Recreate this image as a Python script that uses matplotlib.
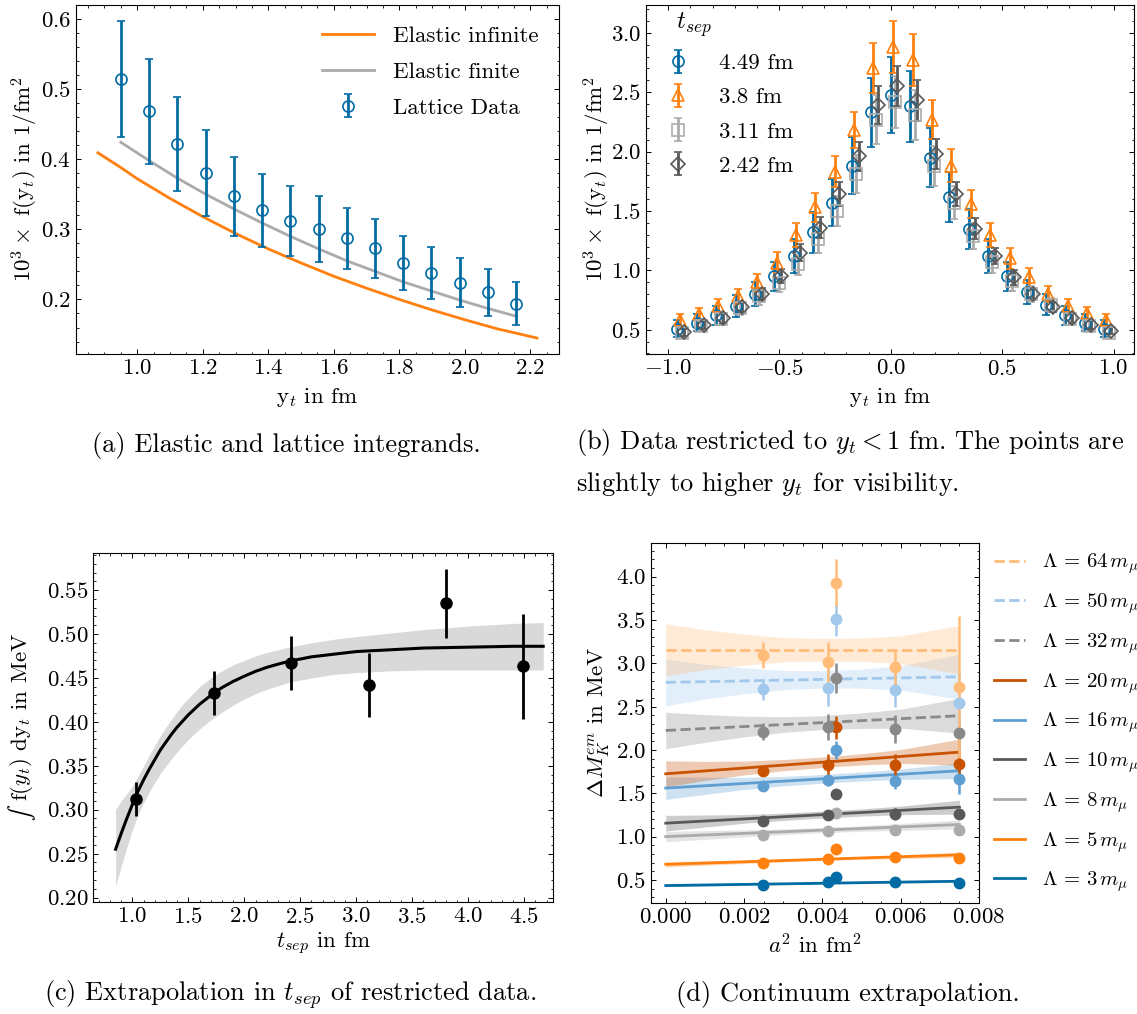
import numpy as np
import matplotlib.pyplot as plt
from matplotlib.lines import Line2D
from matplotlib.ticker import MultipleLocator

plt.rcParams.update({
    'font.family': 'serif',
    'font.serif': ['cmr10'],
    'mathtext.fontset': 'cm',
    'axes.formatter.use_mathtext': True,
    'font.size': 16.5,
    'xtick.direction': 'in', 'ytick.direction': 'in',
    'xtick.top': True, 'ytick.right': True,
    'xtick.minor.visible': True, 'ytick.minor.visible': True,
    'xtick.major.size': 3.5, 'ytick.major.size': 3.5,
    'xtick.minor.size': 1.8, 'ytick.minor.size': 1.8,
    'xtick.major.width': 0.7, 'ytick.major.width': 0.7,
    'xtick.minor.width': 0.6, 'ytick.minor.width': 0.6,
    'axes.linewidth': 0.8,
    'legend.frameon': False,
})

# tableau-colorblind10 colours
BLUE, ORANGE, LGRAY, DGRAY = '#006BA4', '#FF800E', '#ABABAB', '#595959'
MBLUE, DORANGE, GRAY, LBLUE, LORANGE = '#5F9ED1', '#C85200', '#898989', '#A2C8EC', '#FFBC79'

# ---------------- (a) elastic vs lattice integrand ----------------
yt_a = [0.950, 1.036, 1.122, 1.209, 1.295, 1.381, 1.467, 1.554,
        1.640, 1.726, 1.812, 1.898, 1.985, 2.071, 2.157]
lat_val = [0.514, 0.468, 0.421, 0.380, 0.347, 0.327, 0.312, 0.301,
           0.287, 0.273, 0.252, 0.238, 0.224, 0.210, 0.194]
lat_err = [0.083, 0.075, 0.067, 0.061, 0.056, 0.052, 0.050, 0.047,
           0.044, 0.042, 0.039, 0.037, 0.035, 0.033, 0.031]
fin_val = [0.424, 0.398, 0.373, 0.350, 0.329, 0.309, 0.290, 0.272,
           0.255, 0.240, 0.225, 0.212, 0.199, 0.187, 0.176]
yt_inf = [0.88, 0.95, 1.0, 1.1, 1.2, 1.3, 1.4, 1.5, 1.6, 1.7, 1.8, 1.9, 2.0, 2.1, 2.22]
inf_val = [0.409, 0.388, 0.372, 0.344, 0.318, 0.294, 0.272, 0.252,
           0.233, 0.216, 0.200, 0.185, 0.171, 0.158, 0.145]

# ---------------- (b) restricted data per t_sep ----------------
yt_b = [-0.958, -0.871, -0.784, -0.697, -0.610, -0.523, -0.436, -0.349,
        -0.262, -0.175, -0.088, 0.0, 0.088, 0.175, 0.262, 0.349,
        0.436, 0.523, 0.610, 0.697, 0.784, 0.871, 0.958]
tsep_labels = ['4.49 fm', '3.8 fm', '3.11 fm', '2.42 fm']
shift_b = [0.0, 0.01, 0.02, 0.03]
f449 = [0.51, 0.56, 0.62, 0.70, 0.80, 0.95, 1.12, 1.32, 1.57, 1.88, 2.33, 2.48,
        2.38, 1.95, 1.62, 1.35, 1.12, 0.95, 0.82, 0.71, 0.62, 0.56, 0.51]
e449 = [0.07, 0.07, 0.08, 0.09, 0.10, 0.12, 0.14, 0.17, 0.20, 0.24, 0.29, 0.32,
        0.30, 0.25, 0.21, 0.17, 0.14, 0.12, 0.10, 0.09, 0.08, 0.07, 0.07]
f380 = [0.58, 0.63, 0.70, 0.78, 0.90, 1.065, 1.30, 1.53, 1.83, 2.18, 2.70, 2.88,
        2.77, 2.27, 1.88, 1.56, 1.30, 1.10, 0.94, 0.80, 0.70, 0.64, 0.58]
e380 = [0.05, 0.05, 0.06, 0.06, 0.07, 0.09, 0.10, 0.12, 0.13, 0.15, 0.21, 0.22,
        0.22, 0.16, 0.14, 0.12, 0.10, 0.09, 0.08, 0.07, 0.06, 0.05, 0.05]
f311 = [0.47, 0.53, 0.59, 0.68, 0.78, 0.895, 1.05, 1.26, 1.50, 1.81, 2.27, 2.42,
        2.31, 1.88, 1.57, 1.29, 1.07, 0.91, 0.80, 0.71, 0.59, 0.53, 0.47]
e311 = [0.04, 0.04, 0.05, 0.06, 0.07, 0.08, 0.09, 0.11, 0.13, 0.16, 0.21, 0.22,
        0.21, 0.17, 0.14, 0.11, 0.09, 0.08, 0.07, 0.06, 0.05, 0.04, 0.04]
f242 = [0.48, 0.54, 0.60, 0.69, 0.80, 0.95, 1.15, 1.36, 1.64, 1.96, 2.39, 2.55,
        2.43, 1.98, 1.64, 1.35, 1.12, 0.94, 0.80, 0.69, 0.60, 0.54, 0.49]
e242 = [0.03, 0.03, 0.04, 0.04, 0.05, 0.06, 0.07, 0.09, 0.10, 0.12, 0.16, 0.17,
        0.17, 0.13, 0.10, 0.09, 0.07, 0.06, 0.05, 0.04, 0.04, 0.03, 0.03]

# ---------------- (c) t_sep extrapolation ----------------
tsep = [1.03, 1.73, 2.42, 3.11, 3.80, 4.49]
integ = [0.312, 0.433, 0.467, 0.442, 0.535, 0.463]
integ_err = [0.019, 0.025, 0.031, 0.036, 0.039, 0.060]
t_fit = [0.85, 0.90, 0.95, 1.00, 1.05, 1.10, 1.15, 1.20, 1.25, 1.30, 1.35, 1.40,
         1.45, 1.50, 1.60, 1.70, 1.80, 1.90, 2.00, 2.10, 2.20, 2.30, 2.40, 2.60,
         2.80, 3.00, 3.30, 3.60, 4.00, 4.40, 4.67]
fit_c = [0.255, 0.273, 0.290, 0.306, 0.321, 0.334, 0.346, 0.357, 0.368, 0.377, 0.386,
         0.394, 0.401, 0.408, 0.420, 0.430, 0.439, 0.446, 0.452, 0.4575, 0.462, 0.4656,
         0.469, 0.474, 0.477, 0.480, 0.482, 0.484, 0.485, 0.486, 0.486]
fit_lo = [0.213, 0.236, 0.257, 0.277, 0.294, 0.308, 0.320, 0.331, 0.341, 0.350, 0.358,
          0.366, 0.373, 0.380, 0.392, 0.402, 0.411, 0.419, 0.426, 0.432, 0.437, 0.441,
          0.445, 0.450, 0.454, 0.456, 0.458, 0.459, 0.459, 0.459, 0.459]
fit_hi = [0.300, 0.310, 0.318, 0.327, 0.338, 0.350, 0.362, 0.373, 0.384, 0.394, 0.403,
          0.412, 0.420, 0.427, 0.440, 0.450, 0.458, 0.465, 0.470, 0.475, 0.479, 0.482,
          0.485, 0.490, 0.494, 0.497, 0.501, 0.505, 0.509, 0.512, 0.513]

# ---------------- (d) continuum extrapolation ----------------
a2 = [0.00248, 0.00414, 0.00434, 0.00585, 0.00749]
lambdas = [3, 5, 8, 10, 16, 20, 32, 50, 64]
dM = {
    3:  [0.44, 0.48, 0.53, 0.48, 0.47],
    5:  [0.70, 0.74, 0.855, 0.76, 0.75],
    8:  [1.02, 1.07, 1.27, 1.08, 1.08],
    10: [1.18, 1.25, 1.49, 1.26, 1.265],
    16: [1.58, 1.65, 2.00, 1.64, 1.66],
    20: [1.755, 1.83, 2.26, 1.83, 1.84],
    32: [2.21, 2.26, 2.83, 2.24, 2.20],
    50: [2.70, 2.72, 3.51, 2.69, 2.54],
    64: [3.10, 3.01, 3.93, 2.955, 2.73],
}
dM_err = {
    3:  [0.01, 0.01, 0.01, 0.01, 0.01],
    5:  [0.02, 0.02, 0.02, 0.03, 0.02],
    8:  [0.02, 0.03, 0.03, 0.05, 0.04],
    10: [0.03, 0.04, 0.05, 0.07, 0.05],
    16: [0.04, 0.07, 0.10, 0.09, 0.17],
    20: [0.05, 0.12, 0.13, 0.12, 0.14],
    32: [0.10, 0.15, 0.17, 0.16, 0.20],
    50: [0.12, 0.21, 0.19, 0.19, 0.35],
    64: [0.15, 0.24, 0.27, 0.21, 0.82],
}
# fitted line at a^2 = 0 and a^2 = 0.0075
fit_ends = {
    3: (0.435, 0.485), 5: (0.68, 0.79), 8: (1.00, 1.14), 10: (1.155, 1.34),
    16: (1.56, 1.76), 20: (1.725, 1.975), 32: (2.225, 2.395), 50: (2.78, 2.845),
    64: (3.157, 3.157),
}
a2_band = [0.0, 0.001, 0.002, 0.003, 0.004, 0.005, 0.006, 0.0075]
band_hw = {
    3:  [0.012, 0.010, 0.008, 0.007, 0.007, 0.007, 0.008, 0.012],
    5:  [0.030, 0.025, 0.020, 0.016, 0.015, 0.016, 0.020, 0.030],
    8:  [0.060, 0.050, 0.040, 0.033, 0.030, 0.032, 0.040, 0.050],
    10: [0.090, 0.070, 0.050, 0.042, 0.040, 0.042, 0.050, 0.080],
    16: [0.130, 0.100, 0.070, 0.055, 0.050, 0.052, 0.060, 0.090],
    20: [0.150, 0.110, 0.080, 0.065, 0.060, 0.065, 0.080, 0.150],
    32: [0.210, 0.160, 0.120, 0.090, 0.080, 0.090, 0.110, 0.200],
    50: [0.270, 0.200, 0.150, 0.110, 0.100, 0.110, 0.140, 0.260],
    64: [0.300, 0.230, 0.180, 0.140, 0.130, 0.135, 0.160, 0.280],
}
lam_color = {3: BLUE, 5: ORANGE, 8: LGRAY, 10: DGRAY, 16: MBLUE,
             20: DORANGE, 32: GRAY, 50: LBLUE, 64: LORANGE}
dashed = [32, 50, 64]

fig = plt.figure(figsize=(11.37, 10.14), dpi=100)

# (a)
ax = fig.add_axes([0.0668, 0.651, 0.4248, 0.344])
ax.plot(yt_inf, inf_val, color=ORANGE, lw=2, label='Elastic infinite')
ax.plot(yt_a, fin_val, color=LGRAY, lw=2, label='Elastic finite')
ax.errorbar(yt_a, lat_val, yerr=lat_err, fmt='o', color=BLUE, mfc='none', ms=8,
            mew=1.2, elinewidth=2, capsize=3, capthick=2, label='Lattice Data')
ax.xaxis.set_major_locator(MultipleLocator(0.2))
ax.set_xlabel(r'$\mathrm{y}_t$ in fm')
ax.set_ylabel(r'$10^3\times$ f($\mathrm{y}_t$) in 1/fm$^2$')
ax.xaxis.set_label_coords(0.5, -0.092)
ax.yaxis.set_label_coords(-0.075, 0.5)
ax.legend(loc='upper right', handlelength=2.3, handletextpad=0.8, labelspacing=0.7)

# (b)
ax = fig.add_axes([0.568, 0.651, 0.429, 0.344])
series_b = [(f449, e449, BLUE, 'o'), (f380, e380, ORANGE, '^'),
            (f311, e311, LGRAY, 's'), (f242, e242, DGRAY, 'D')]
for (vals, errs, col, mk), lab, dx in zip(series_b, tsep_labels, shift_b):
    xs = [x + dx for x in yt_b]
    ax.errorbar(xs, vals, yerr=errs, fmt=mk, color=col, mfc='none',
                ms=8 if mk != 'D' else 7, mew=1.2, elinewidth=2, capsize=3,
                capthick=2, label=lab)
ax.set_xlim(-1.1, 1.09)
ax.set_xlabel(r'$\mathrm{y}_t$ in fm')
ax.set_ylabel(r'$10^3\times$ f($\mathrm{y}_t$) in 1/fm$^2$')
ax.xaxis.set_label_coords(0.5, -0.092)
ax.yaxis.set_label_coords(-0.07, 0.5)
ax.legend(loc='upper left', bbox_to_anchor=(0.0, 1.025), title='  $t_{sep}$',
          title_fontsize=18, alignment='left', handlelength=1.6, handletextpad=1.0,
          labelspacing=0.62, borderaxespad=0.2)

# (c)
ax_c = fig.add_axes([0.082, 0.1105, 0.4046, 0.344])
ax_c.fill_between(t_fit, fit_lo, fit_hi, color='#d9d9d9', lw=0)
ax_c.plot(t_fit, fit_c, color='black', lw=2.2)
ax_c.errorbar(tsep, integ, yerr=integ_err, fmt='o', color='black', ms=8, elinewidth=2)
ax_c.set_xlim(0.65, 4.76)
ax_c.xaxis.set_major_locator(MultipleLocator(0.5))
ax_c.yaxis.set_major_locator(MultipleLocator(0.05))
ax_c.set_xlabel(r'$t_{sep}$ in fm')
ax_c.set_ylabel(r'f($y_t$) d$\mathrm{y}_t$ in MeV')
ax_c.xaxis.set_label_coords(0.5, -0.083)
ax_c.yaxis.set_label_coords(-0.126, 0.53)

# (d)
ax = fig.add_axes([0.5726, 0.1095, 0.2885, 0.355])
handles = []
for lam in lambdas:
    col = lam_color[lam]
    ls = '--' if lam in dashed else '-'
    y0, y1 = fit_ends[lam]
    ax.plot([0.0, 0.0075], [y0, y1], color=col, ls=ls, lw=2, zorder=3)
    mid = [y0 + (y1 - y0) * x / 0.0075 for x in a2_band]
    lo = [m - w for m, w in zip(mid, band_hw[lam])]
    hi = [m + w for m, w in zip(mid, band_hw[lam])]
    ax.fill_between(a2_band, lo, hi, color=col, alpha=0.3, lw=0, zorder=1)
    ax.errorbar(a2, dM[lam], yerr=dM_err[lam], fmt='o', color=col, ms=7.5,
                elinewidth=1.8, zorder=4)
    handles.append(Line2D([], [], color=col, ls=ls, lw=2,
                          label=r'$\Lambda\,=\,%d\,m_\mu$' % lam))
ax.set_xticks([0, 0.002, 0.004, 0.006, 0.008])
ax.set_xlim(-0.000375, 0.008)
ax.yaxis.set_major_locator(MultipleLocator(0.5))
ax.set_xlabel(r'$a^2$ in fm$^2$')
ax.set_ylabel(r'$\Delta M_K^{em}$ in MeV')
ax.xaxis.set_label_coords(0.5, -0.083)
ax.yaxis.set_label_coords(-0.119, 0.5)
ax.legend(handles=handles[::-1], loc='center left', bbox_to_anchor=(1.0, 0.5),
          fontsize=15, handlelength=1.5, handletextpad=0.8, labelspacing=0.72,
          borderaxespad=0.3)

# captions
cap = dict(fontsize=19, va='center')
fig.text(0.252, 0.561, '(a) Elastic and lattice integrands.', ha='center', **cap)
fig.text(0.507, 0.544, '(b) Data restricted to $y_t < 1$ fm. The points are\n'
         'slightly to higher $y_t$ for visibility.', ha='left',
         linespacing=1.55, **cap)
fig.text(0.255, 0.019, '(c) Extrapolation in $t_{sep}$ of restricted data.', ha='center', **cap)
fig.text(0.746, 0.019, '(d) Continuum extrapolation.', ha='center', **cap)

# integral sign in front of the (c) y label (cmr10 has no usable glyph for it)
fig.canvas.draw()
bb = ax_c.yaxis.label.get_window_extent()
xi, yi = fig.transFigure.inverted().transform((bb.x1, bb.y0 - 8))
fig.text(xi, yi, '∫', rotation=90, rotation_mode='anchor', ha='right', va='bottom',
         family='STIXGeneral', fontsize=17)

fig.savefig('out.png', dpi=100)
